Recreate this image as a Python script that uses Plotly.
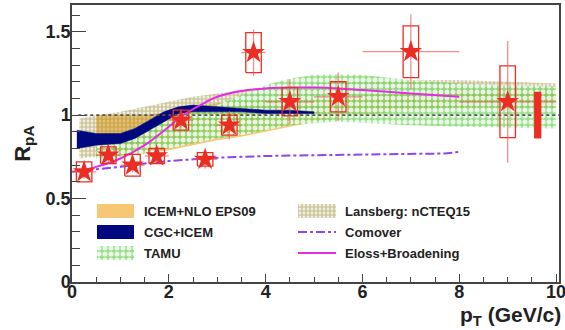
import plotly.graph_objects as go

# ---------------- measured J/psi R_pA ----------------
pt = [0.25, 0.75, 1.25, 1.75, 2.25, 2.75, 3.25, 3.75, 4.5, 5.5, 7.0, 9.0]
rpa = [0.66, 0.76, 0.70, 0.755, 0.97, 0.735, 0.94, 1.375, 1.08, 1.11, 1.38, 1.08]
pt_halfwidth = [0.25, 0.25, 0.25, 0.25, 0.25, 0.25, 0.25, 0.25, 0.5, 0.5, 1.0, 1.0]
stat_err = [0.04, 0.04, 0.045, 0.04, 0.05, 0.055, 0.085, 0.14, 0.135, 0.145, 0.225, 0.365]
sys_err = [0.06, 0.05, 0.065, 0.045, 0.06, 0.04, 0.06, 0.12, 0.085, 0.09, 0.155, 0.215]
global_sys = 0.14
global_pt = 9.62

# ---------------- model curves ----------------
icem_pt = [0.5, 1.0, 1.5, 2.0, 2.5, 3.0, 3.5, 4.0, 5.0, 6.0, 7.0, 8.0, 9.0, 10.0]
icem_hi = [1.0, 1.0, 1.0, 1.02, 1.05, 1.07, 1.08, 1.09, 1.11, 1.12, 1.13, 1.14, 1.14, 1.14]
icem_lo = [0.75, 0.76, 0.77, 0.79, 0.82, 0.85, 0.87, 0.90, 0.96, 1.0, 1.03, 1.05, 1.06, 1.06]

cgc_pt = [0.1, 0.5, 1.0, 1.3, 1.6, 1.9, 2.2, 2.5, 3.0, 3.5, 4.0, 4.5, 5.0]
cgc_hi = [0.91, 0.89, 0.89, 0.92, 0.97, 1.02, 1.05, 1.06, 1.05, 1.04, 1.03, 1.03, 1.02]
cgc_lo = [0.80, 0.82, 0.83, 0.86, 0.91, 0.96, 1.01, 1.02, 1.02, 1.02, 1.01, 1.01, 1.01]

tamu_pt = [0.5, 1.0, 1.5, 2.0, 2.5, 3.0, 3.5, 4.0, 4.5, 5.0, 5.5, 6.0, 7.0, 8.0, 9.0, 10.0]
tamu_hi = [0.86, 0.88, 0.92, 0.97, 1.02, 1.06, 1.12, 1.18, 1.22, 1.24, 1.245, 1.24, 1.21, 1.19, 1.18, 1.17]
tamu_lo = [0.74, 0.75, 0.77, 0.80, 0.83, 0.86, 0.88, 0.91, 0.94, 0.95, 0.96, 0.955, 0.94, 0.93, 0.925, 0.92]

lans_pt = [0.15, 0.5, 1.0, 1.5, 2.0, 2.5, 3.0, 3.5, 4.0, 5.0, 6.0, 7.0, 8.0, 9.0, 10.0]
lans_hi = [0.98, 1.0, 1.02, 1.05, 1.08, 1.11, 1.13, 1.15, 1.17, 1.19, 1.2, 1.21, 1.21, 1.2, 1.19]
lans_lo = [0.74, 0.75, 0.77, 0.81, 0.85, 0.89, 0.93, 0.96, 0.98, 1.01, 1.03, 1.04, 1.04, 1.04, 1.04]

como_pt = [0.25, 0.5, 1.0, 1.5, 2.0, 2.5, 3.0, 3.5, 4.0, 5.0, 6.0, 7.0, 7.7, 8.0]
como_r = [0.665, 0.675, 0.69, 0.71, 0.725, 0.735, 0.745, 0.75, 0.755, 0.76, 0.765, 0.77, 0.77, 0.78]

eloss_pt = [0.0, 0.5, 1.0, 1.5, 2.0, 2.3, 2.65, 3.0, 3.5, 4.0, 4.5, 5.0, 5.5, 6.0, 7.0, 8.0]
eloss_r = [0.66, 0.69, 0.74, 0.82, 0.93, 1.0, 1.06, 1.11, 1.145, 1.16, 1.165, 1.165, 1.16, 1.15, 1.13, 1.11]

unity_pt = [0.13, 10.06]

legend_left = ["ICEM+NLO EPS09", "CGC+ICEM", "TAMU"]
legend_right = ["Lansberg: nCTEQ15", "Comover", "Eloss+Broadening"]

# ---------------- styles ----------------
FONT = "Liberation Sans"
ORANGE = "rgb(246,200,118)"
NAVY = "rgb(0,8,128)"
PURPLE = "rgb(140,70,240)"
MAGENTA = "rgb(228,45,228)"
RED = "rgb(236,45,35)"
RED_LIGHT = "rgba(240,80,80,0.65)"

# green mesh with white holes, olive checker dots
green_pat = dict(shape=".", bgcolor="rgba(110,210,90,0.7)", fgcolor="rgba(255,255,255,0.8)",
                 size=6, solidity=0.55, fillmode="replace")
olive_pat = dict(shape=".", fgcolor="rgba(150,135,45,0.95)", size=4, solidity=0.7)


def band(x, lo, hi):
    return list(x) + list(x)[::-1], list(hi) + list(lo)[::-1]


fig = go.Figure()

bx, by = band(icem_pt, icem_lo, icem_hi)
fig.add_trace(go.Scatter(x=bx, y=by, fill="toself", fillcolor=ORANGE,
                         line=dict(width=0), mode="lines", hoverinfo="skip"))

bx, by = band(lans_pt, lans_lo, lans_hi)
fig.add_trace(go.Scatter(x=bx, y=by, fill="toself", fillcolor="rgba(0,0,0,0)",
                         fillpattern=olive_pat, line=dict(width=0),
                         mode="lines", hoverinfo="skip"))

bx, by = band(tamu_pt, tamu_lo, tamu_hi)
fig.add_trace(go.Scatter(x=bx, y=by, fill="toself", fillcolor="rgba(0,0,0,0)",
                         fillpattern=green_pat, line=dict(width=0),
                         mode="lines", hoverinfo="skip"))

bx, by = band(cgc_pt, cgc_lo, cgc_hi)
fig.add_trace(go.Scatter(x=bx, y=by, fill="toself", fillcolor=NAVY,
                         line=dict(width=0.5, color=NAVY), mode="lines",
                         hoverinfo="skip"))

# R_pA = 1 reference
fig.add_trace(go.Scatter(x=unity_pt, y=[1, 1], mode="lines",
                         line=dict(color="#555", width=1.6, dash="3px,3px")))

fig.add_trace(go.Scatter(x=como_pt, y=como_r, mode="lines",
                         line=dict(color=PURPLE, width=2, dash="dashdot")))
fig.add_trace(go.Scatter(x=eloss_pt, y=eloss_r, mode="lines",
                         line=dict(color=MAGENTA, width=2), line_shape="spline"))

# systematic boxes
box_hw = 0.16
rx, ry = [], []
for x, y, s in zip(pt, rpa, sys_err):
    rx += [x - box_hw, x + box_hw, x + box_hw, x - box_hw, x - box_hw, None]
    ry += [y - s, y - s, y + s, y + s, y - s, None]
fig.add_trace(go.Scatter(x=rx, y=ry, mode="lines",
                         line=dict(color=RED, width=1.3), hoverinfo="skip"))

# points with statistical errors
fig.add_trace(go.Scatter(
    x=pt, y=rpa, mode="markers",
    marker=dict(symbol="star", size=17, color=RED, line=dict(width=0)),
    error_y=dict(type="data", array=stat_err, width=0, color=RED_LIGHT, thickness=1.3),
    error_x=dict(type="data", array=pt_halfwidth, width=0, color=RED_LIGHT, thickness=1.3),
))

# global normalisation uncertainty
fig.add_shape(type="rect", xref="x", yref="y",
              x0=global_pt - 0.075, x1=global_pt + 0.075,
              y0=1 - global_sys, y1=1 + global_sys,
              fillcolor=RED, line=dict(width=0), layer="above")

# ---------------- legend (pixel-like overlay axes) ----------------
L_X0, L_X1, R_X0, R_X1 = 97, 134, 298, 336
rows = [211, 232, 253]
H = 7


def swatch(x0, x1, yc):
    return [x0, x1, x1, x0, x0], [yc - H, yc - H, yc + H, yc + H, yc - H]


sx, sy = swatch(L_X0, L_X1, rows[0])
fig.add_trace(go.Scatter(x=sx, y=sy, xaxis="x2", yaxis="y2", fill="toself",
                         fillcolor=ORANGE, line=dict(width=0), mode="lines"))
sx, sy = swatch(L_X0, L_X1, rows[1])
fig.add_trace(go.Scatter(x=sx, y=sy, xaxis="x2", yaxis="y2", fill="toself",
                         fillcolor=NAVY, line=dict(width=0), mode="lines"))
sx, sy = swatch(L_X0, L_X1, rows[2])
fig.add_trace(go.Scatter(x=sx, y=sy, xaxis="x2", yaxis="y2", fill="toself",
                         fillcolor="rgba(0,0,0,0)", fillpattern=green_pat,
                         line=dict(width=0), mode="lines"))
sx, sy = swatch(R_X0, R_X1, rows[0])
fig.add_trace(go.Scatter(x=sx, y=sy, xaxis="x2", yaxis="y2", fill="toself",
                         fillcolor="rgba(0,0,0,0)", fillpattern=olive_pat,
                         line=dict(width=0), mode="lines"))
fig.add_trace(go.Scatter(x=[R_X0, R_X1], y=[rows[1], rows[1]], xaxis="x2", yaxis="y2",
                         mode="lines", line=dict(color=PURPLE, width=2, dash="dashdot")))
fig.add_trace(go.Scatter(x=[R_X0, R_X1], y=[rows[2], rows[2]], xaxis="x2", yaxis="y2",
                         mode="lines", line=dict(color=MAGENTA, width=2)))

for name, yc in zip(legend_left, rows):
    fig.add_annotation(x=142, y=yc, xref="x2", yref="y2", text=name, showarrow=False,
                       xanchor="left", yanchor="middle",
                       font=dict(family=FONT, size=13, color="#222", weight="bold"))
for name, yc in zip(legend_right, rows):
    fig.add_annotation(x=343, y=yc, xref="x2", yref="y2", text=name, showarrow=False,
                       xanchor="left", yanchor="middle",
                       font=dict(family=FONT, size=13, color="#222", weight="bold"))

# axis titles (paper coordinates, relative to the plot area)
fig.add_annotation(x=1.008, y=-0.122, xref="paper", yref="paper",
                   text="p<sub>T</sub> (GeV/c)",
                   showarrow=False, xanchor="right", yanchor="middle",
                   font=dict(family=FONT, size=21, color="#222", weight="bold"))
fig.add_annotation(x=-0.10, y=0.50, xref="paper", yref="paper", text="R<sub>pA</sub>",
                   showarrow=False, textangle=-90, xanchor="center", yanchor="middle",
                   font=dict(family=FONT, size=22, color="#222", weight="bold"))

tickfont = dict(family=FONT, size=18, color="#222", weight="bold")
fig.update_layout(
    width=565, height=330,
    margin=dict(l=72, r=6, t=5, b=48, autoexpand=False),
    paper_bgcolor="white", plot_bgcolor="white",
    showlegend=False,
    xaxis=dict(range=[0, 10.06], tickvals=[0, 2, 4, 6, 8, 10], ticks="inside",
               ticklen=8, tickwidth=1.2, tickcolor="#444", ticklabelstandoff=-7,
               ticklabeloverflow="allow", automargin=False,
               minor=dict(dtick=0.5, tick0=0, ticks="inside", ticklen=5, tickcolor="#444"),
               showgrid=False, zeroline=False, showline=True, mirror=True,
               linecolor="#444", linewidth=1.5, tickfont=tickfont),
    yaxis=dict(range=[0, 1.66], tickvals=[0, 0.5, 1, 1.5], ticktext=["0", "0.5", "1", "1.5"],
               ticks="inside", ticklen=14, tickwidth=1.2, tickcolor="#444",
               ticklabelstandoff=-4, ticklabeloverflow="allow", automargin=False,
               minor=dict(dtick=0.1, tick0=0, ticks="inside", ticklen=8, tickcolor="#444"),
               showgrid=False, zeroline=False, showline=True, mirror=True,
               linecolor="#444", linewidth=1.5, tickfont=tickfont),
    xaxis2=dict(overlaying="x", range=[72, 559], visible=False, domain=[0, 1]),
    yaxis2=dict(overlaying="y", range=[282, 5], visible=False, domain=[0, 1]),
)

fig.write_html("out.html")
